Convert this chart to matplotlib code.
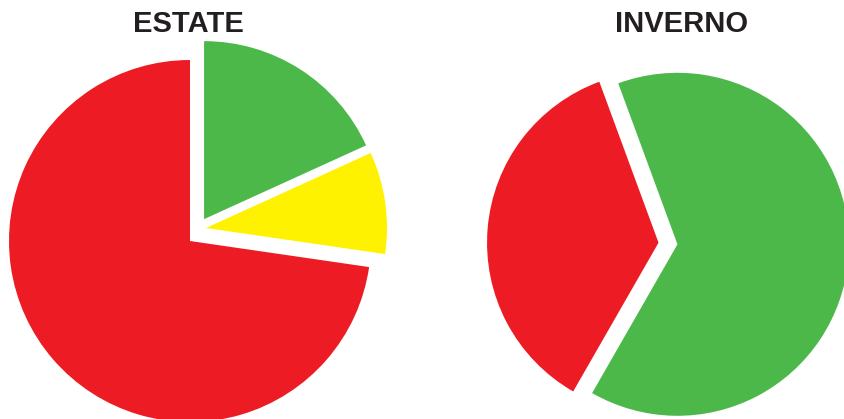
import matplotlib
matplotlib.use("Agg")
import matplotlib.pyplot as plt

# ---- data ----
titles = ["ESTATE", "INVERNO"]
estate_values = [18.2, 9.1, 72.7]          # green, yellow, red
estate_colors = ["#4DB84A", "#FFF200", "#ED1C24"]
inverno_values = [36.1, 63.9]              # red, green
inverno_colors = ["#ED1C24", "#4DB84A"]

W, H = 844, 419
fig = plt.figure(figsize=(W / 100, H / 100), dpi=100)
ax = fig.add_axes([0, 0, 1, 1])

# ESTATE pie (pixel-based data coordinates, y up)
wedges_e, _ = ax.pie(estate_values, colors=estate_colors, startangle=90,
                     counterclock=False, center=(190, 178), radius=181,
                     explode=[26, 0, 0], wedgeprops=dict(linewidth=0))
# green slice is drawn a little smaller in the reference
wedges_e[0].set_radius(178)
# yellow slice is shifted off its mid-angle direction in the reference
cx, cy = wedges_e[1].center
wedges_e[1].set_center((cx + 16, cy + 13))

# INVERNO pie
ax.pie(inverno_values, colors=inverno_colors, startangle=110.2,
       counterclock=True, center=(668, 175.5), radius=171.5,
       explode=[9.5, 9.5], wedgeprops=dict(linewidth=0))

ax.set_xlim(0, W)
ax.set_ylim(0, H)
ax.set_aspect('auto')
ax.axis('off')

for t, x in zip(titles, [188.5, 682]):
    ax.text(x, 387, t, ha='center', va='baseline', fontsize=21,
            fontweight='bold', family='Liberation Sans', color='#231F20')

fig.savefig("out.png", dpi=100)
